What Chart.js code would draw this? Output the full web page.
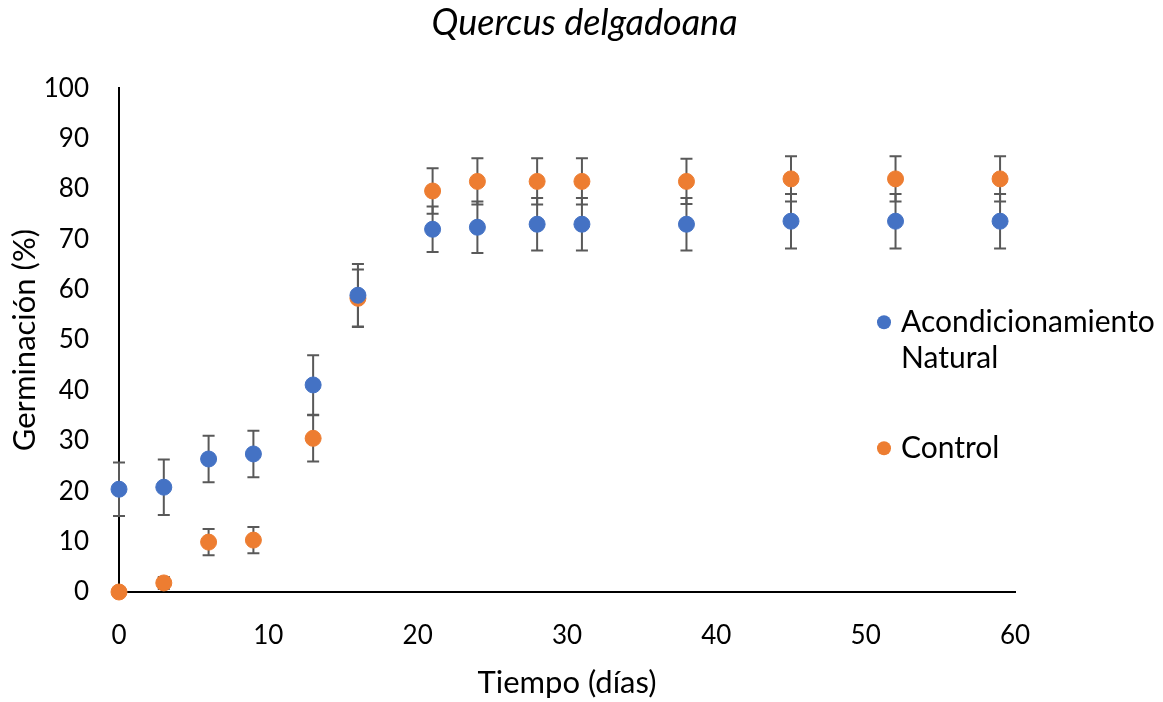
<!DOCTYPE html>
<html>
<head>
<meta charset="utf-8">
<script src="https://cdn.jsdelivr.net/npm/chart.js"></script>
<style>
  html, body { margin: 0; padding: 0; background: #fff; }
  #wrap { width: 1163px; height: 702px; }
</style>
</head>
<body>
<div id="wrap"><canvas id="myChart"></canvas></div>
<script>
// datos
const dias = [0, 3, 6, 9, 13, 16, 21, 24, 28, 31, 38, 45, 52, 59];
const natural = [20.4, 20.8, 26.4, 27.4, 41.1, 58.9, 72.0, 72.4, 73.0, 73.0, 73.0, 73.6, 73.6, 73.6];
const naturalErr = [5.3, 5.5, 4.6, 4.6, 5.9, 6.2, 4.5, 5.1, 5.2, 5.2, 5.2, 5.4, 5.4, 5.4];
const control = [0, 1.8, 9.9, 10.3, 30.5, 58.3, 79.6, 81.5, 81.5, 81.5, 81.5, 82.0, 82.0, 82.0];
const controlErr = [0, 1.2, 2.6, 2.6, 4.6, 5.7, 4.5, 4.6, 4.6, 4.6, 4.5, 4.5, 4.5, 4.5];
const seriesNames = ['Acondicionamiento Natural', 'Control'];
const seriesColors = ['#4472C4', '#ED7D31'];

const fontFamily = 'Lato, "Open Sans", sans-serif';

function toPoints(values) {
  return dias.map((d, i) => ({ x: d, y: values[i] }));
}

// barras de error dibujadas con las escalas del grafico
const errorBars = {
  id: 'errorBars',
  beforeDatasetsDraw(chart) {
    const { ctx, scales: { x, y } } = chart;
    ctx.save();
    ctx.strokeStyle = '#595959';
    ctx.lineWidth = 2;
    chart.data.datasets.forEach(ds => {
      ds.data.forEach((p, i) => {
        const e = ds.errors[i];
        if (!e) return;
        const px = x.getPixelForValue(p.x);
        const top = y.getPixelForValue(p.y + e);
        const bot = y.getPixelForValue(p.y - e);
        ctx.beginPath();
        ctx.moveTo(px, top);
        ctx.lineTo(px, bot);
        ctx.moveTo(px - 6, top);
        ctx.lineTo(px + 6, top);
        ctx.moveTo(px - 6, bot);
        ctx.lineTo(px + 6, bot);
        ctx.stroke();
      });
    });
    ctx.restore();
  }
};

// leyenda a la derecha con texto partido en lineas
const sideLegend = {
  id: 'sideLegend',
  afterDraw(chart) {
    const { ctx, chartArea } = chart;
    const left = chartArea.right - 134;
    const maxW = chart.width - left - 25;
    let y = chartArea.top + 234;
    ctx.save();
    ctx.font = '30px ' + fontFamily;
    ctx.textBaseline = 'middle';
    chart.data.datasets.forEach((ds, i) => {
      const words = ds.label.split(' ');
      const lines = [];
      let cur = '';
      words.forEach(w => {
        const test = cur ? cur + ' ' + w : w;
        if (cur && ctx.measureText(test).width > maxW) {
          lines.push(cur);
          cur = w;
        } else {
          cur = test;
        }
      });
      lines.push(cur);
      ctx.fillStyle = ds.backgroundColor;
      ctx.beginPath();
      ctx.arc(left + 3, y, 7, 0, Math.PI * 2);
      ctx.fill();
      ctx.fillStyle = '#000';
      lines.forEach((l, k) => ctx.fillText(l, left + 20, y + k * 36));
      y += 36 * lines.length + 54;
    });
    ctx.restore();
  }
};

const ctx = document.getElementById('myChart');

new Chart(ctx, {
  type: 'scatter',
  data: {
    datasets: [
      {
        label: seriesNames[0],
        data: toPoints(natural),
        errors: naturalErr,
        backgroundColor: seriesColors[0],
        borderColor: seriesColors[0],
        pointRadius: 8,
        pointHoverRadius: 8,
        clip: false
      },
      {
        label: seriesNames[1],
        data: toPoints(control),
        errors: controlErr,
        backgroundColor: seriesColors[1],
        borderColor: seriesColors[1],
        pointRadius: 8,
        pointHoverRadius: 8,
        clip: false
      }
    ]
  },
  options: {
    responsive: true,
    maintainAspectRatio: false,
    animation: false,
    layout: { padding: { left: 6, right: 0, top: 0, bottom: 0 } },
    plugins: {
      legend: { display: false },
      tooltip: { enabled: false },
      title: {
        display: true,
        text: 'Quercus delgadoana',
        color: '#000',
        font: { family: fontFamily, size: 36, style: 'italic', weight: 'normal', lineHeight: 1.2 },
        padding: { top: 2, bottom: 43 }
      }
    },
    scales: {
      x: {
        type: 'linear',
        min: 0,
        max: 60,
        ticks: { stepSize: 10, color: '#000', padding: 28, font: { family: fontFamily, size: 26 } },
        grid: { display: false, drawTicks: false },
        border: { color: '#000', width: 2 },
        title: {
          display: true,
          text: 'Tiempo (días)',
          color: '#000',
          font: { family: fontFamily, size: 31 },
          padding: { top: 4, bottom: 0 }
        },
        afterFit(scale) { scale.height = 110; }
      },
      y: {
        min: 0,
        max: 100,
        ticks: { stepSize: 10, color: '#000', padding: 30, font: { family: fontFamily, size: 26 } },
        grid: { display: false, drawTicks: false },
        border: { color: '#000', width: 2 },
        title: {
          display: true,
          text: 'Germinación (%)',
          color: '#000',
          font: { family: fontFamily, size: 31 },
          padding: { top: 0, bottom: 4 }
        },
        afterFit(scale) { scale.width = 113; }
      },
      // eje vacio que reserva el hueco de la leyenda
      hueco: {
        type: 'linear',
        position: 'right',
        display: true,
        ticks: { display: false },
        grid: { display: false, drawTicks: false },
        border: { display: false },
        afterFit(scale) { scale.width = 148; }
      }
    }
  },
  plugins: [errorBars, sideLegend]
});
</script>
</body>
</html>
